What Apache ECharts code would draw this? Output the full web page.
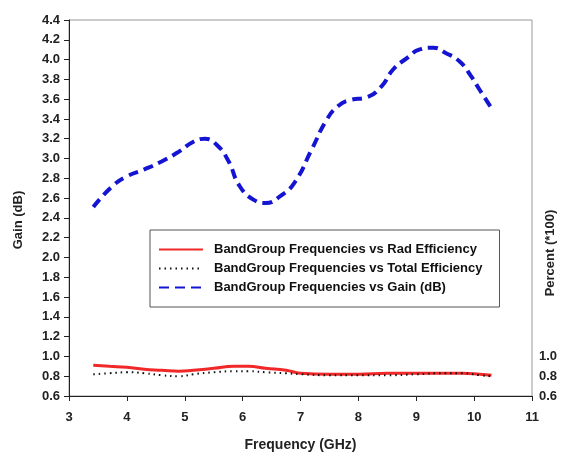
<!DOCTYPE html>
<html><head><meta charset="utf-8">
<script src="https://cdn.jsdelivr.net/npm/echarts@6/dist/echarts.min.js"></script>
<style>html,body{margin:0;padding:0;background:#fff}#c{width:564px;height:459px}</style>
</head><body><div id="c"></div>
<script>
const gainFreq = [3.42,3.75,4.0,4.3,4.6,4.9,5.15,5.35,5.55,5.75,5.95,6.2,6.4,6.65,6.9,7.2,7.45,7.65,7.85,8.15,8.4,8.6,8.85,9.05,9.3,9.5,9.75,9.95,10.1,10.3];
const gainValues = [2.51,2.72,2.82,2.89,2.97,3.07,3.17,3.20,3.14,2.98,2.72,2.58,2.55,2.62,2.76,3.10,3.39,3.53,3.59,3.62,3.73,3.90,4.02,4.10,4.12,4.07,3.98,3.83,3.69,3.51];
const effFreq = [3.42,3.7,4.0,4.3,4.6,4.9,5.15,5.5,5.85,6.1,6.4,6.75,7.0,7.5,8.0,8.5,9.0,9.5,9.8,10.1,10.3];
const radEff = [0.91,0.90,0.89,0.87,0.86,0.85,0.86,0.88,0.90,0.90,0.88,0.86,0.83,0.82,0.82,0.83,0.83,0.83,0.83,0.82,0.81];
const totalEff = [0.82,0.83,0.84,0.83,0.81,0.80,0.82,0.84,0.85,0.85,0.84,0.83,0.82,0.81,0.81,0.81,0.82,0.83,0.83,0.81,0.80];
const xTicks = {min:3, max:11, step:1};
const leftTicks = {min:0.6, max:4.4, step:0.2};
const rightLabels = ['0.6','0.8','1.0'];
const seriesNames = ['BandGroup Frequencies vs Rad Efficiency','BandGroup Frequencies vs Total Efficiency','BandGroup Frequencies vs Gain (dB)'];

const pair = (xs, ys) => xs.map((x,i)=>[x, ys[i]]);
const font = 'Liberation Sans, Arial, sans-serif';
const chart = echarts.init(document.getElementById('c'));
chart.setOption({
  animation:false,
  backgroundColor:'#fff',
  grid:{left:69,right:32,top:20,bottom:63,show:true,borderColor:'#999',borderWidth:1,outerBoundsMode:'none',containLabel:false},
  legend:{
    orient:'vertical',left:150,top:230,
    data:seriesNames,
    borderColor:'#555',borderWidth:1,
    padding:[13,17,13,8],
    itemWidth:44,itemHeight:10,itemGap:6,
    itemStyle:{opacity:0},
    textStyle:{fontFamily:font,fontWeight:'bold',fontSize:13,color:'#111',padding:[0,0,0,6]}
  },
  xAxis:{
    type:'value',min:xTicks.min,max:xTicks.max,interval:xTicks.step,
    name:'Frequency (GHz)',nameLocation:'middle',nameGap:42,nameMoveOverlap:false,
    nameTextStyle:{fontFamily:font,fontWeight:'bold',fontSize:14,color:'#222'},
    axisLine:{lineStyle:{color:'#222',width:1}},
    axisTick:{length:5,lineStyle:{color:'#222'}},
    axisLabel:{fontFamily:font,fontWeight:'bold',fontSize:13,color:'#222',margin:15},
    splitLine:{show:false}
  },
  yAxis:[{
    type:'value',min:leftTicks.min,max:leftTicks.max,interval:leftTicks.step,
    name:'Gain (dB)',nameLocation:'middle',nameGap:44,nameMoveOverlap:false,
    nameTextStyle:{fontFamily:font,fontWeight:'bold',fontSize:13,color:'#222',padding:[0,24,0,0]},
    axisLine:{show:true,lineStyle:{color:'#222',width:1}},
    axisTick:{show:true,length:5,lineStyle:{color:'#222'}},
    axisLabel:{fontFamily:font,fontWeight:'bold',fontSize:13,color:'#222',margin:9,formatter:v=>v.toFixed(1)},
    splitLine:{show:false}
  },{
    type:'value',position:'right',min:leftTicks.min,max:leftTicks.max,interval:leftTicks.step,
    name:'Percent (*100)',nameLocation:'middle',nameGap:12,nameRotate:90,nameMoveOverlap:false,
    nameTextStyle:{fontFamily:font,fontWeight:'bold',fontSize:13,color:'#222',padding:[0,90,0,0]},
    axisLine:{show:false},
    axisTick:{show:false},
    axisLabel:{fontFamily:font,fontWeight:'bold',fontSize:13,color:'#222',margin:7,
      formatter:v=>{const s=v.toFixed(1);return rightLabels.indexOf(s)>=0?s:'';}},
    splitLine:{show:false}
  }],
  series:[
    {name:seriesNames[0],type:'line',yAxisIndex:1,smooth:true,symbol:'none',
     data:pair(effFreq,radEff),lineStyle:{color:'#f02828',width:3},itemStyle:{color:'#f02828'},z:3},
    {name:seriesNames[1],type:'line',yAxisIndex:1,smooth:true,symbol:'none',
     data:pair(effFreq,totalEff),lineStyle:{color:'#111',width:2,type:[1.5,4]},itemStyle:{color:'#111'},z:4},
    {name:seriesNames[2],type:'line',yAxisIndex:0,smooth:true,symbol:'none',
     data:pair(gainFreq,gainValues),lineStyle:{color:'#1414d2',width:4,type:[10,6]},itemStyle:{color:'#1414d2'},z:5}
  ]
});
</script></body></html>
